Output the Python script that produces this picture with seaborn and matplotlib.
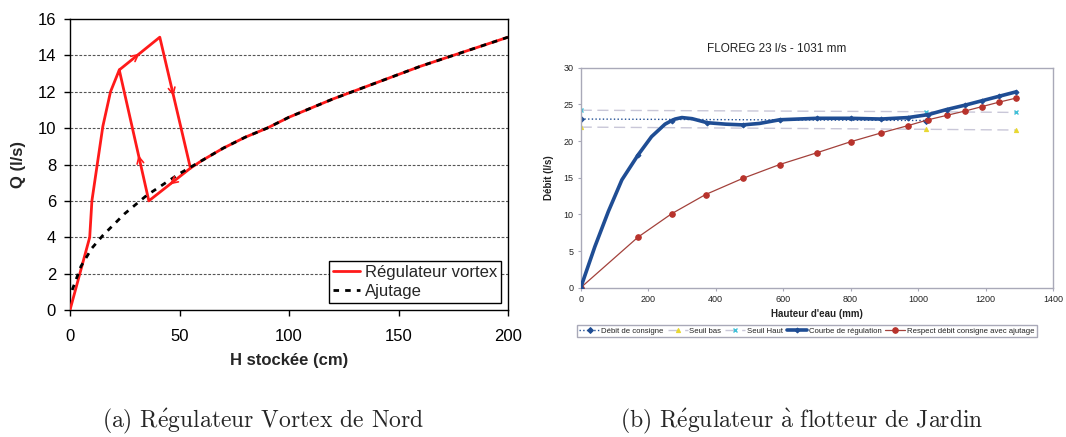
import numpy as np
import pandas as pd
import matplotlib
matplotlib.use('Agg')
import matplotlib.pyplot as plt
import seaborn as sns

sns.set_theme(style='white')
plt.rcParams['font.family'] = ['Liberation Sans', 'DejaVu Sans']
plt.rcParams['mathtext.fontset'] = 'cm'

# ── (a) Régulateur vortex de Nord ──────────────────────────
# courbe du vortex : montée, boucle d'hystérésis
vortex_h = [0, 9, 10, 15, 18.5, 22.5, 41, 55, 36, 22.5]
vortex_q = [0, 4, 6, 10.1, 12, 13.2, 15, 7.8, 6, 13.2]
# suite du vortex le long de l'ajutage
vortex_tail_h = [55, 60, 70, 80, 90, 100, 120, 140, 160, 180, 200]
vortex_tail_q = [7.8, 8.2, 8.9, 9.5, 10.0, 10.6, 11.6, 12.5, 13.4, 14.2, 15.0]
# ajutage
ajut_h = [1, 5, 10, 15, 20, 25, 30, 35, 40, 50, 60, 70, 80, 90, 100, 120, 140, 160, 180, 200]
ajut_q = [1.1, 2.4, 3.4, 4.1, 4.7, 5.3, 5.8, 6.3, 6.7, 7.5, 8.2, 8.9, 9.5, 10.0, 10.6,
          11.6, 12.5, 13.4, 14.2, 15.0]

# ── (b) FLOREG ─────────────────────────────────────────────
reg_h = [0, 42, 82, 122, 170, 210, 250, 270, 280, 300, 330, 375, 430, 480, 530, 590,
         700, 800, 890, 970, 1030, 1085, 1140, 1190, 1240, 1290]
reg_q = [0, 5.6, 10.4, 14.7, 18.1, 20.6, 22.3, 22.8, 23.0, 23.2, 23.05, 22.5, 22.3, 22.2,
         22.4, 22.9, 23.1, 23.1, 23.0, 23.2, 23.6, 24.3, 24.9, 25.5, 26.1, 26.7]
reg_marked = [0, 170, 270, 375, 480, 590, 700, 800, 890, 970, 1030, 1085, 1140, 1190, 1240, 1290]

ajt_h = [0, 170, 270, 370, 480, 590, 700, 800, 890, 970, 1030, 1085, 1140, 1190, 1240, 1290]
ajt_q = [0, 6.9, 10.1, 12.7, 14.9, 16.8, 18.4, 19.9, 21.1, 22.1, 22.9, 23.5, 24.1, 24.7, 25.3, 25.85]

consigne_h = [0, 1025]
consigne_q = [23.0, 22.8]
seuil_h = [0, 1025, 1290]
seuil_bas = [21.9, 21.6, 21.5]
seuil_haut = [24.2, 24.0, 23.9]

RED = '#ff1a1a'
BLUE = '#1f4d94'
BROWN = '#a3413b'

fig = plt.figure(figsize=(10.66, 4.37), dpi=100)
ax1 = fig.add_axes([70/1066, 1-310/437, 438/1066, 291/437])
ax2 = fig.add_axes([580.7/1066, 1-287.7/437, 472.3/1066, 220/437])

# ── panneau (a) ────────────────────────────────────────────
sns.lineplot(x=vortex_h, y=vortex_q, sort=False, estimator=None, ax=ax1,
             color=RED, lw=2.0, label='Régulateur vortex', zorder=3)
sns.lineplot(x=vortex_tail_h, y=vortex_tail_q, sort=False, estimator=None, ax=ax1,
             color=RED, lw=2.0, zorder=3)
sns.lineplot(x=ajut_h, y=ajut_q, sort=False, estimator=None, ax=ax1,
             color='black', lw=2.0, label='Ajutage', zorder=4)
ax1.lines[-1].set_dashes((2, 2.2))

# flèches sur la boucle
for i, t in [(5, 0.5), (6, 0.45), (7, 0.5), (8, 0.35)]:
    x0, y0 = vortex_h[i], vortex_q[i]
    x1, y1 = vortex_h[i+1], vortex_q[i+1]
    xa, ya = x0 + t*(x1-x0), y0 + t*(y1-y0)
    xb, yb = x0 + (t-0.02)*(x1-x0), y0 + (t-0.02)*(y1-y0)
    ax1.annotate('', xy=(xa, ya), xytext=(xb, yb),
                 arrowprops=dict(arrowstyle='->', color=RED, lw=1.2, mutation_scale=12),
                 zorder=5)

ax1.set_xlim(0, 200)
ax1.set_ylim(0, 16)
ax1.set_xticks([0, 50, 100, 150, 200])
ax1.set_yticks(np.arange(0, 17, 2))
for y in range(2, 16, 2):
    ax1.axhline(y, color='#555555', lw=0.8, ls=(0, (2.5, 1.5)), zorder=1)
for s in ax1.spines.values():
    s.set_color('black')
    s.set_linewidth(1.0)
ax1.tick_params(axis='both', direction='out', length=4, width=1, color='black',
                labelsize=12, labelcolor='black')
ax1.tick_params(axis='x', pad=10)
ax1.tick_params(axis='y', pad=6)
ax1.xaxis.set_ticks_position('bottom')
ax1.yaxis.set_ticks_position('left')
ax1.set_xlabel('H stockée (cm)', fontsize=12, fontweight='bold', labelpad=6)
ax1.set_ylabel('Q (l/s)', fontsize=12, fontweight='bold', labelpad=8)
leg1 = ax1.legend(loc='lower right', fontsize=12, frameon=True, fancybox=False,
                  edgecolor='black', framealpha=1, handlelength=1.6, handletextpad=0.3,
                  labelspacing=0.25, borderpad=0.25, borderaxespad=0.4)
leg1.get_frame().set_linewidth(1.0)

# ── panneau (b) ────────────────────────────────────────────
mark_idx = [i for i, h in enumerate(reg_h) if h in reg_marked]
sns.lineplot(x=consigne_h, y=consigne_q, ax=ax2, estimator=None, sort=False,
             color=BLUE, lw=1.0, ls=':', marker='D', ms=3, mec=BLUE,
             label='Débit de consigne')
sns.lineplot(x=seuil_h, y=seuil_bas, ax=ax2, estimator=None, sort=False,
             color='#c9c7d8', lw=1.0, marker='^', ms=3, mfc='#e8d830', mec='#e8d830',
             label='Seuil bas')
ax2.lines[-1].set_dashes((8, 4))
sns.lineplot(x=seuil_h, y=seuil_haut, ax=ax2, estimator=None, sort=False,
             color='#c9c7d8', lw=1.0, marker='x', ms=3, mec='#40c0d8', mew=1,
             label='Seuil Haut')
ax2.lines[-1].set_dashes((8, 4))
sns.lineplot(x=ajt_h, y=ajt_q, ax=ax2, estimator=None, sort=False,
             color=BROWN, lw=0.9, marker='o', ms=4, mfc='#b8332c', mec='#b8332c',
             label='Respect débit consigne avec ajutage', zorder=3)
sns.lineplot(x=reg_h, y=reg_q, ax=ax2, estimator=None, sort=False,
             color=BLUE, lw=2.6, marker='D', ms=2.5, markevery=mark_idx, mec=BLUE,
             label='Courbe de régulation', zorder=4)

ax2.set_xlim(0, 1400)
ax2.set_ylim(0, 30)
ax2.set_xticks(np.arange(0, 1401, 200))
ax2.set_yticks(np.arange(0, 31, 5))
for s in ax2.spines.values():
    s.set_color('#a9a9b8')
    s.set_linewidth(1.0)
ax2.tick_params(axis='both', direction='out', length=2, width=0.8, color='#a9a9b8',
                labelsize=6.5, labelcolor='#222222', pad=3)
ax2.xaxis.set_ticks_position('bottom')
ax2.yaxis.set_ticks_position('left')
ax2.set_xlabel("Hauteur d'eau (mm)", fontsize=7, fontweight='bold', labelpad=4,
               color='#222222')
ax2.set_ylabel('Débit (l/s)', fontsize=7, fontweight='bold', labelpad=7, color='#222222')
fig.text(777/1066, 1-49/437, 'FLOREG 23 l/s - 1031 mm', fontsize=8.5, ha='center',
         va='center', color='#222222')

handles, labels = ax2.get_legend_handles_labels()
order = ['Débit de consigne', 'Seuil bas', 'Seuil Haut', 'Courbe de régulation',
         'Respect débit consigne avec ajutage']
hmap = dict(zip(labels, handles))
leg2 = ax2.legend([hmap[k] for k in order], order, loc='center', ncol=5,
                  bbox_to_anchor=(807/1066, 1-331/437), bbox_transform=fig.transFigure,
                  fontsize=5.6, frameon=True, fancybox=False, edgecolor='#a9a9b8',
                  framealpha=1, handlelength=2.6, handletextpad=0.2, columnspacing=0.5,
                  borderpad=0.3)
for t in leg2.get_texts():
    t.set_color('#222222')

# ── légendes des sous-figures ──────────────────────────────
cap_font = ['cmr10', 'DejaVu Serif']
fig.text(263/1066, 1-421/437, r'(a) R$\mathrm{\acute{e}}$gulateur Vortex de Nord',
         fontsize=17, family=cap_font, ha='center', va='center')
fig.text(802/1066, 1-421/437,
         r'(b) R$\mathrm{\acute{e}}$gulateur $\mathrm{\grave{a}}$ flotteur de Jardin',
         fontsize=17, family=cap_font, ha='center', va='center')

fig.savefig('out.png', dpi=100)
